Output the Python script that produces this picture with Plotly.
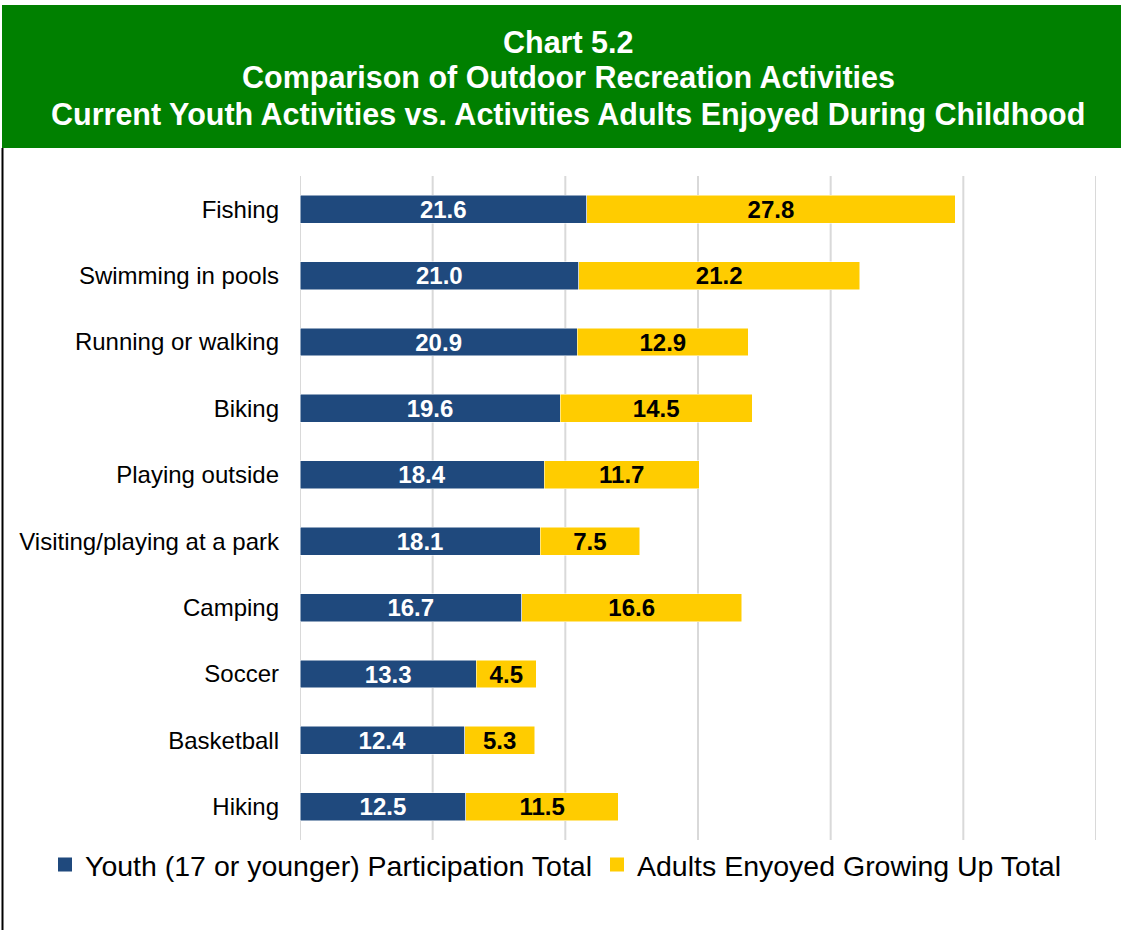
import plotly.graph_objects as go

categories = ["Fishing", "Swimming in pools", "Running or walking", "Biking",
              "Playing outside", "Visiting/playing at a park", "Camping",
              "Soccer", "Basketball", "Hiking"]
youth = [21.6, 21.0, 20.9, 19.6, 18.4, 18.1, 16.7, 13.3, 12.4, 12.5]
adults = [27.8, 21.2, 12.9, 14.5, 11.7, 7.5, 16.6, 4.5, 5.3, 11.5]
series_names = ["Youth (17 or younger) Participation Total",
                "Adults Enyoyed Growing Up Total"]
series_colors = ["#1F497D", "#FFCC00"]
label_colors = ["white", "black"]
title_lines = ["Chart 5.2",
               "Comparison of Outdoor Recreation Activities",
               "Current Youth Activities vs. Activities Adults Enjoyed During Childhood"]
grid_values = [0, 10, 20, 30, 40, 50, 60]

W, H = 1121, 930
ML, MR, MT, MB = 300, 25, 176, 90
PW, PH = W - ML - MR, H - MT - MB

def px_x(px):
    return (px - ML) / PW

def px_y(py):
    return (H - MB - py) / PH

FONT = "Liberation Sans, Arial, sans-serif"

fig = go.Figure()
for vals, name, col, lcol in zip([youth, adults], series_names, series_colors, label_colors):
    fig.add_trace(go.Bar(
        y=categories, x=vals, name=name, orientation="h", showlegend=False,
        marker=dict(color=col, line=dict(color="#FFFFFF", width=0.5)),
        texttemplate="%{x:.1f}", textposition="inside", insidetextanchor="middle",
        constraintext="none",
        textfont=dict(family=FONT, size=24, color=lcol, weight="bold"),
    ))
for name, col in zip(series_names, series_colors):
    fig.add_trace(go.Scatter(
        x=[None], y=[None], mode="markers", name=name,
        marker=dict(symbol="square", size=14, color=col),
    ))

shapes = [
    dict(type="rect", xref="paper", yref="paper",
         x0=px_x(2), x1=px_x(1125), y0=px_y(148), y1=px_y(5),
         fillcolor="#008000", line=dict(width=0), layer="above"),
    dict(type="line", xref="paper", yref="paper",
         x0=px_x(2.5), x1=px_x(2.5), y0=px_y(935), y1=px_y(148),
         line=dict(color="black", width=2)),
]
for g in grid_values:
    shapes.append(dict(type="line", xref="x", yref="paper", x0=g, x1=g, y0=0, y1=1,
                       line=dict(color="#D9D9D9", width=2), layer="below"))

fig.update_layout(
    width=W, height=H,
    barmode="stack", bargap=0.58,
    paper_bgcolor="white", plot_bgcolor="white",
    margin=dict(l=ML, r=MR, t=MT, b=MB, autoexpand=False),
    font=dict(family=FONT, color="black"),
    showlegend=True,
    legend=dict(orientation="h", xref="paper", yref="paper",
                x=px_x(45), xanchor="left", y=px_y(865), yanchor="middle",
                font=dict(size=28.5, color="black"),
                traceorder="normal", itemwidth=30, tracegroupgap=0),
    xaxis=dict(range=[0, 60], dtick=10, showticklabels=False, showgrid=False,
               zeroline=False, showline=False, fixedrange=True),
    yaxis=dict(autorange="reversed", showgrid=False, showline=False,
               tickfont=dict(size=24, color="black"), ticklabelstandoff=20,
               ticks="", fixedrange=True),
    shapes=shapes,
    annotations=[
        dict(text=line, xref="paper", yref="paper",
             x=px_x(568), y=px_y(cy), xanchor="center", yanchor="middle",
             showarrow=False, align="center",
             font=dict(family=FONT, size=30.5, color="white", weight="bold"))
        for line, cy in zip(title_lines, [42, 78, 115])
    ],
)

fig.write_html("out.html", config={"displayModeBar": False},
               post_script="document.body.style.margin='0px';")
